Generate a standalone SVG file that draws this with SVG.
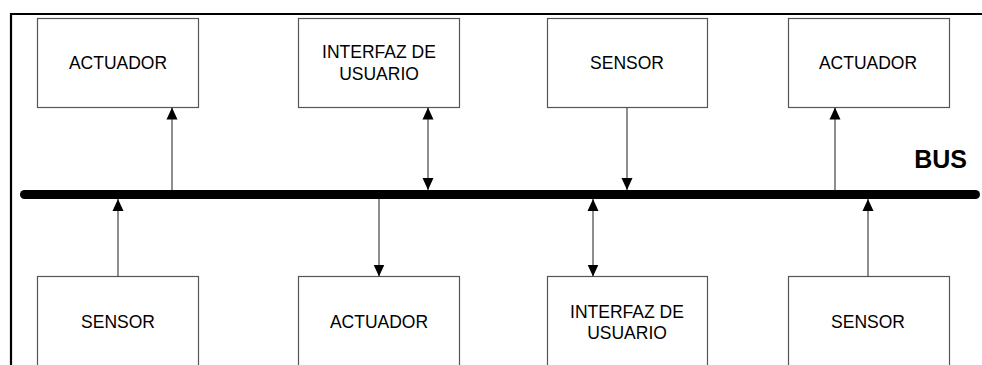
<svg xmlns="http://www.w3.org/2000/svg" width="982" height="365" viewBox="0 0 982 365">
<style>
.box{fill:#fff;stroke:#555;stroke-width:1.2}
.t{font-family:"Liberation Sans",Arial,sans-serif;font-size:17.5px;fill:#000;text-anchor:middle}
.c{stroke:#444;stroke-width:1.2;fill:none}
</style>
<defs>
<marker id="ah" markerUnits="userSpaceOnUse" markerWidth="12" markerHeight="12" viewBox="0 0 12 12" refX="12" refY="6" orient="auto-start-reverse">
<path d="M0,0.5 L12,6 L0,11.5 Z" fill="#000"/>
</marker>
</defs>
<rect width="982" height="365" fill="#fff"/>
<g id="frame">
<path d="M11,365 V14 H982" fill="none" stroke="#000" stroke-width="2.2"/>
</g>
<g id="bus">
<line x1="24.5" y1="194.5" x2="975.5" y2="194.5" stroke="#000" stroke-width="9" stroke-linecap="round"/>
<text x="967" y="168" font-family="'Liberation Sans',Arial,sans-serif" font-size="25" font-weight="bold" text-anchor="end">BUS</text>
</g>
<g id="n1"><rect class="box" x="37.5" y="18.5" width="161" height="89"/><text class="t" x="118" y="68.5">ACTUADOR</text></g>
<g id="n2"><rect class="box" x="298.5" y="18.5" width="161" height="89"/><text class="t" x="379" y="57.5">INTERFAZ DE</text><text class="t" x="379" y="79.5">USUARIO</text></g>
<g id="n3"><rect class="box" x="547.5" y="18.5" width="160" height="89"/><text class="t" x="627" y="68.5">SENSOR</text></g>
<g id="n4"><rect class="box" x="788.5" y="18.5" width="161" height="89"/><text class="t" x="868" y="68.5">ACTUADOR</text></g>
<g id="n5"><rect class="box" x="37.5" y="276.5" width="161" height="100"/><text class="t" x="118" y="327.5">SENSOR</text></g>
<g id="n6"><rect class="box" x="298.5" y="276.5" width="161" height="100"/><text class="t" x="379" y="327.5">ACTUADOR</text></g>
<g id="n7"><rect class="box" x="547.5" y="276.5" width="160" height="100"/><text class="t" x="627" y="317.5">INTERFAZ DE</text><text class="t" x="627" y="338.5">USUARIO</text></g>
<g id="n8"><rect class="box" x="788.5" y="276.5" width="161" height="100"/><text class="t" x="868" y="327.5">SENSOR</text></g>
<g id="connectors">
<line class="c" x1="172" y1="190" x2="172" y2="107.5" marker-end="url(#ah)"/>
<line class="c" x1="428" y1="107.5" x2="428" y2="190" marker-start="url(#ah)" marker-end="url(#ah)"/>
<line class="c" x1="627" y1="107.5" x2="627" y2="190" marker-end="url(#ah)"/>
<line class="c" x1="835" y1="190" x2="835" y2="107.5" marker-end="url(#ah)"/>
<line class="c" x1="118" y1="276.5" x2="118" y2="199" marker-end="url(#ah)"/>
<line class="c" x1="379" y1="199" x2="379" y2="276.5" marker-end="url(#ah)"/>
<line class="c" x1="593" y1="199" x2="593" y2="276.5" marker-start="url(#ah)" marker-end="url(#ah)"/>
<line class="c" x1="868" y1="276.5" x2="868" y2="199" marker-end="url(#ah)"/>
</g>
</svg>
